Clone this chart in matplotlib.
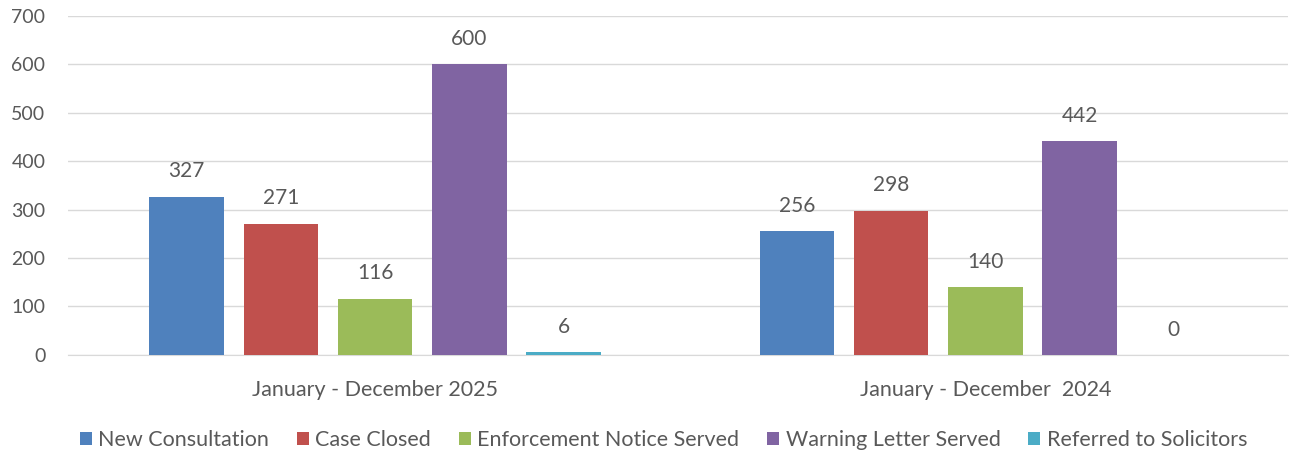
import matplotlib
matplotlib.use("Agg")
import matplotlib.pyplot as plt
import numpy as np

categories = ["January - December 2025", "January - December  2024"]
series_names = ["New Consultation", "Case Closed", "Enforcement Notice Served",
                "Warning Letter Served", "Referred to Solicitors"]
values = {
    "New Consultation": [327, 256],
    "Case Closed": [271, 298],
    "Enforcement Notice Served": [116, 140],
    "Warning Letter Served": [600, 442],
    "Referred to Solicitors": [6, 0],
}
colors = ["#4F81BD", "#C0504D", "#9BBB59", "#8064A2", "#4BACC6"]
yticks = [0, 100, 200, 300, 400, 500, 600, 700]

plt.rcParams['font.family'] = ['Lato', 'DejaVu Sans']
txt = "#595959"

fig = plt.figure(figsize=(13.01, 4.55), dpi=100)
ax = fig.add_axes([0.052, 0.22, 0.938, 0.745])

x = np.arange(len(categories))
step = 0.1545
width = 0.122
for i, name in enumerate(series_names):
    pos = x + (i - 2) * step + 0.004
    ax.bar(pos, values[name], width=width, color=colors[i], label=name, zorder=3)
    for p, v in zip(pos, values[name]):
        ax.annotate(str(v), (p, v), xytext=(0, 11), textcoords="offset points",
                    ha="center", va="bottom", fontsize=15, color=txt)

ax.set_xlim(-0.5, 1.5)
ax.set_ylim(0, 700)
ax.set_yticks(yticks)
ax.set_xticks(x + 0.004)
ax.set_xticklabels(categories, fontsize=15.5)
ax.grid(axis="y", color="#D9D9D9", linewidth=1, zorder=0)
for s in ["top", "right", "left"]:
    ax.spines[s].set_visible(False)
ax.spines["bottom"].set_color("#D9D9D9")
ax.tick_params(axis="y", length=0, labelsize=14, colors=txt, pad=16)
ax.tick_params(axis="x", length=0, colors=txt, pad=18)

fig.legend(loc="center", bbox_to_anchor=(0.51, 0.033), ncol=5, frameon=False,
           fontsize=15.5, handlelength=0.55, handleheight=0.55, handletextpad=0.3,
           columnspacing=1.3, labelcolor=txt)

fig.savefig("out.png", dpi=100)
